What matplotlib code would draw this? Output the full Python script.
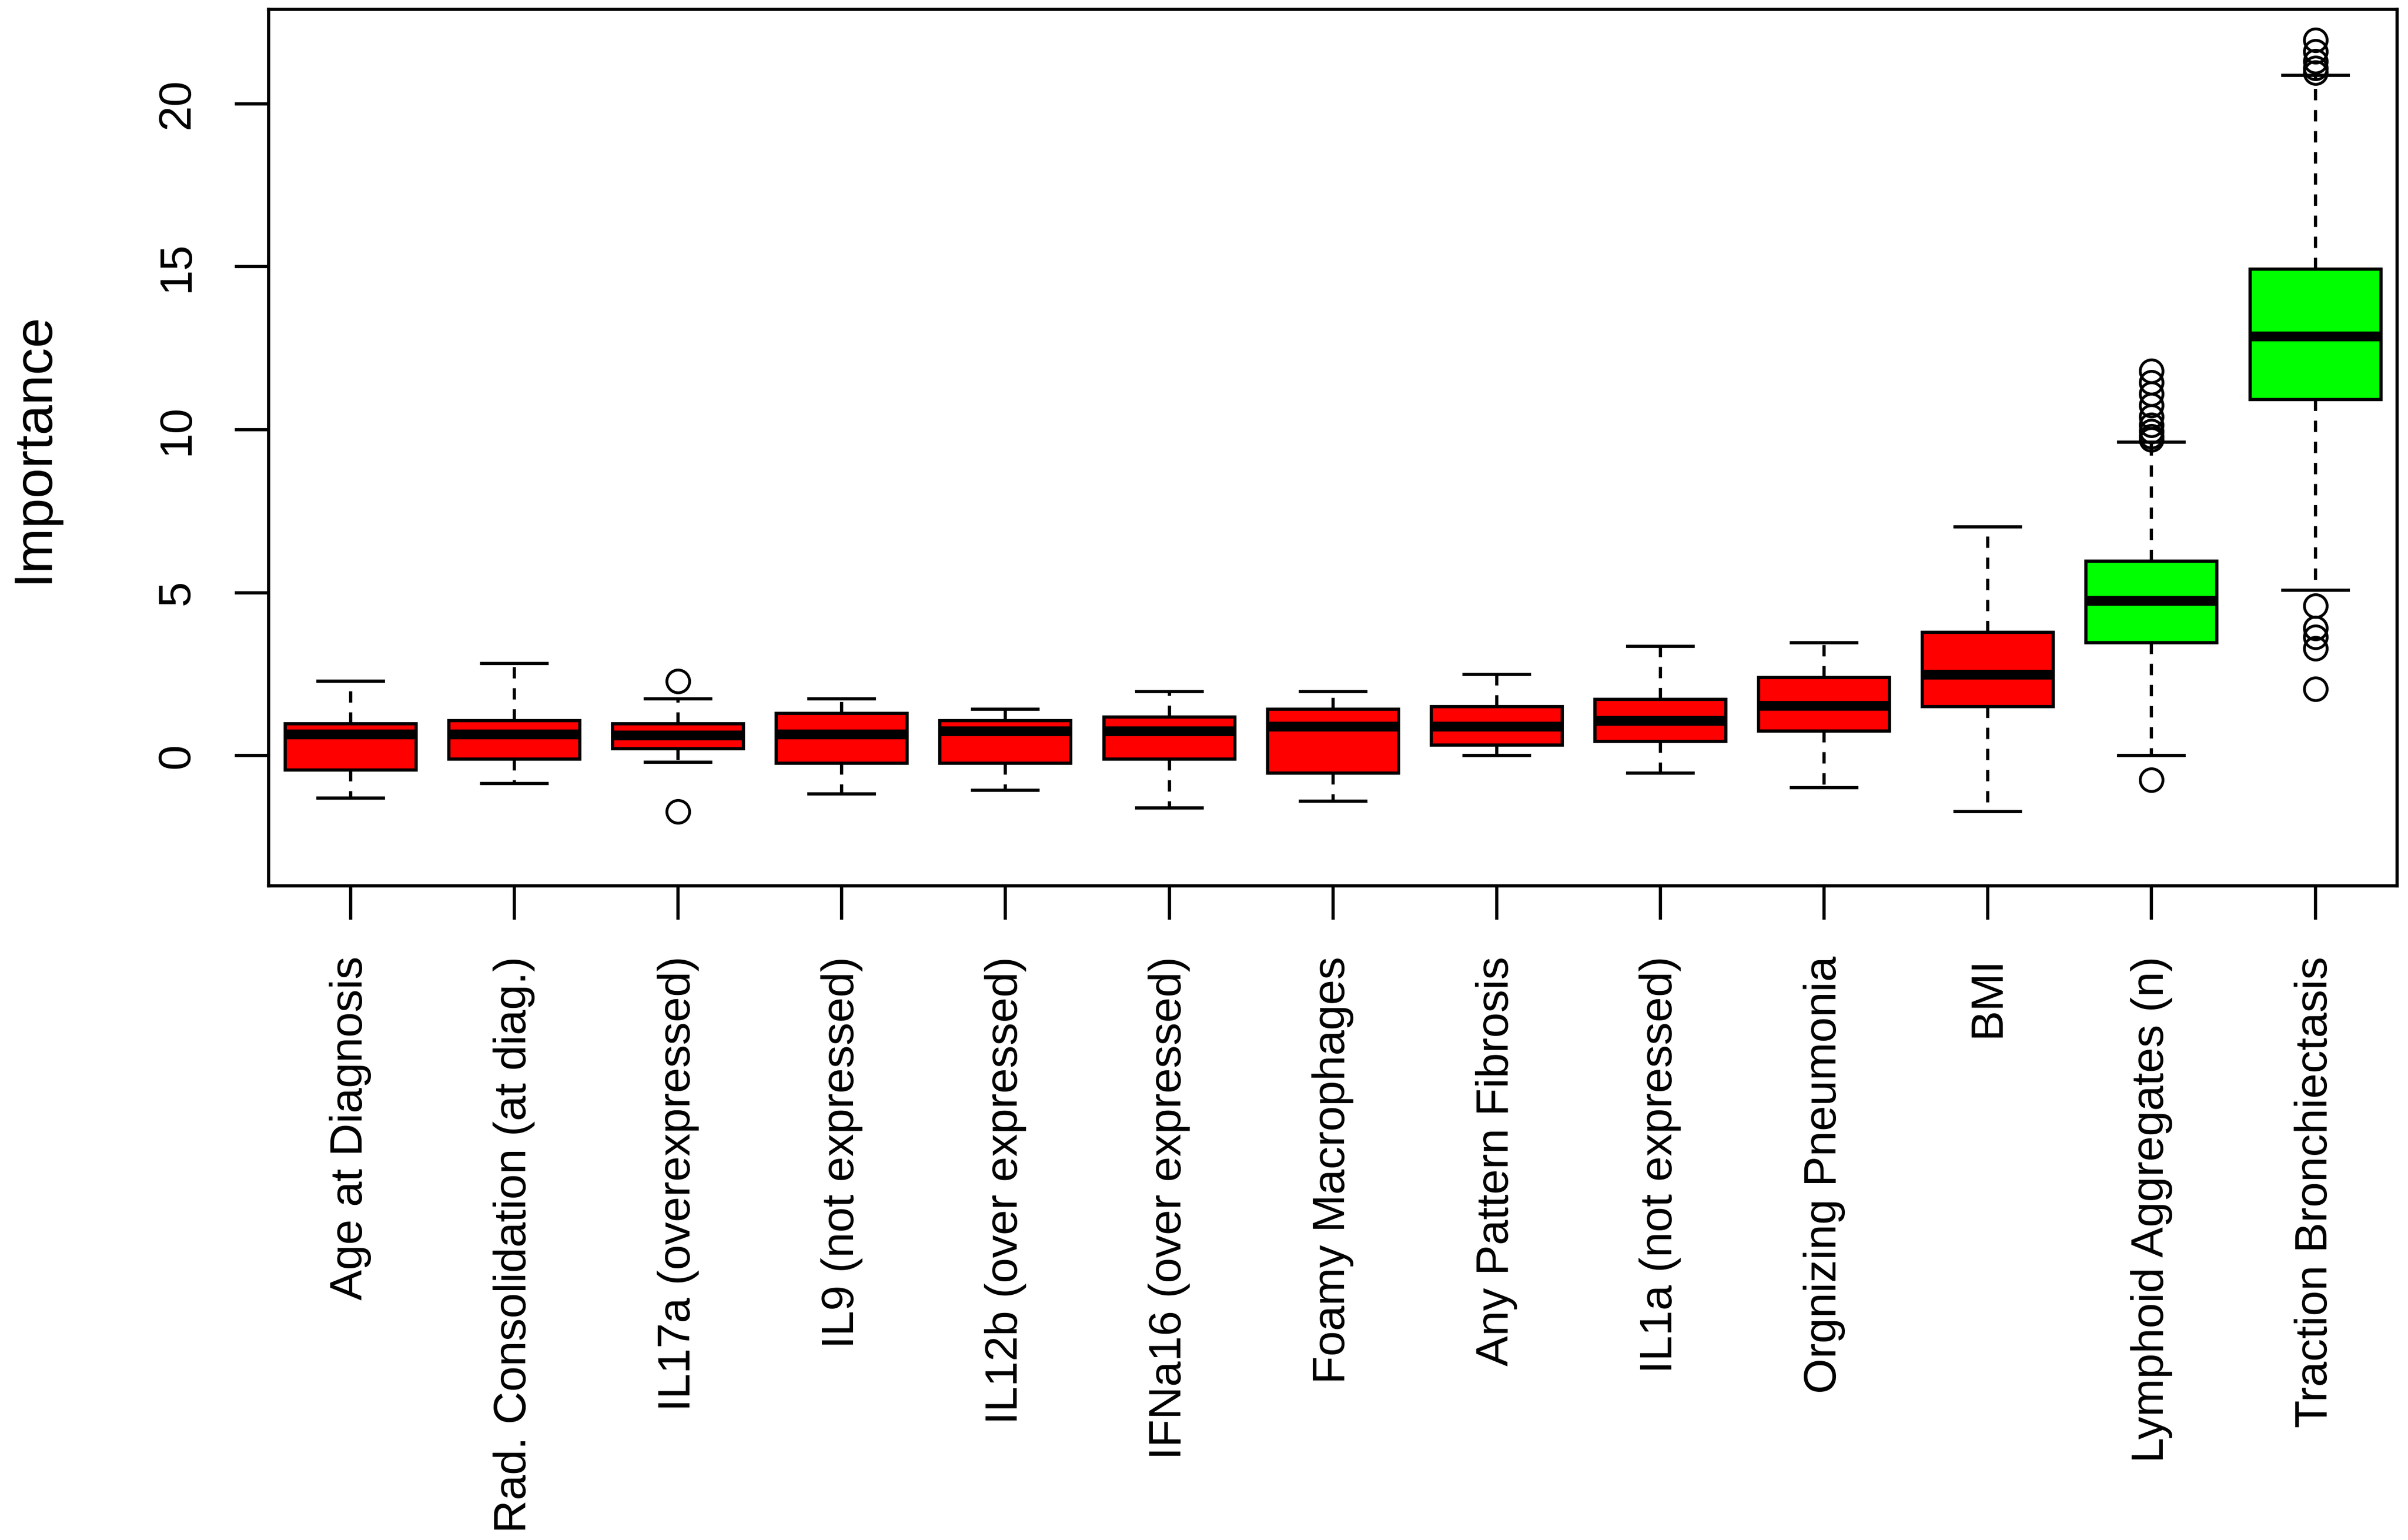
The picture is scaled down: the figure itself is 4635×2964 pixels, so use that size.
"""Variable importance boxplots, redrawn from the R figure."""

import matplotlib
matplotlib.use("Agg")
import matplotlib.pyplot as plt

plt.rcParams['font.family'] = ['Liberation Sans', 'DejaVu Sans']

labels = [
    "Age at Diagnosis", "Rad. Consolidation (at diag.)", "IL17a (overexpressed)",
    "IL9 (not expressed)", "IL12b (over expressed)", "IFNa16 (over expressed)",
    "Foamy Macrophages", "Any Pattern Fibrosis", "IL1a (not expressed)",
    "Orgnizing Pneumonia", "BMI", "Lymphoid Aggregates (n)", "Traction Bronchiectasis",
]

# five number summaries
whislo = [-1.30, -0.85, -0.21, -1.17, -1.07, -1.60, -1.40, 0.00, -0.53, -0.98, -1.72, 0.00, 5.08]
q1 = [-0.44, -0.11, 0.21, -0.23, -0.23, -0.11, -0.53, 0.32, 0.44, 0.75, 1.51, 3.47, 10.93]
med = [0.66, 0.66, 0.62, 0.66, 0.76, 0.76, 0.89, 0.89, 1.08, 1.53, 2.49, 4.76, 12.87]
q3 = [0.98, 1.07, 0.98, 1.30, 1.07, 1.19, 1.42, 1.51, 1.72, 2.40, 3.79, 5.96, 14.92]
whishi = [2.28, 2.83, 1.74, 1.74, 1.42, 1.96, 1.96, 2.49, 3.36, 3.47, 7.02, 9.62, 20.87]
fliers = [
    [], [], [2.28, -1.72], [], [], [], [], [], [], [], [],
    [9.70, 9.80, 9.95, 10.15, 10.40, 10.75, 11.10, 11.45, 11.80, -0.75],
    [20.95, 21.10, 21.30, 21.60, 21.95, 4.59, 3.91, 3.64, 3.29, 2.04],
]
colors = ["#ff0000"] * 11 + ["#00ff00"] * 2

stats = []
for i in range(len(labels)):
    stats.append(dict(label=labels[i], whislo=whislo[i], q1=q1[i], med=med[i],
                      q3=q3[i], whishi=whishi[i], fliers=fliers[i]))

fig = plt.figure(figsize=(15.45, 9.88), dpi=300)
ax = fig.add_axes([0.1116, 0.4247, 0.8839, 0.5693])

lw = 1.5
bp = ax.bxp(stats, positions=range(1, 14), widths=0.8, patch_artist=True,
            boxprops=dict(edgecolor="black", linewidth=lw),
            medianprops=dict(color="black", linewidth=4.5, solid_capstyle="butt"),
            whiskerprops=dict(color="black", linewidth=lw, linestyle=(0, (3.5, 3))),
            capprops=dict(color="black", linewidth=lw),
            capwidths=0.4,
            flierprops=dict(marker="o", markersize=10.5, markerfacecolor="none",
                            markeredgecolor="black", markeredgewidth=1.3))
for patch, c in zip(bp["boxes"], colors):
    patch.set_facecolor(c)

ax.set_xlim(0.5, 13.5)
ax.set_ylim(-4.0, 22.9)
ax.set_yticks([0, 5, 10, 15, 20])
ax.set_xticks(range(1, 14))
ax.set_xticklabels(labels, rotation=90, fontsize=21)
for t in ax.get_yticklabels():
    t.set_rotation(90)
    t.set_va("center")
    t.set_fontsize(21)
ax.tick_params(axis="both", length=15.5, width=lw, pad=17)
ax.set_ylabel("Importance", fontsize=25, labelpad=45)
for s in ax.spines.values():
    s.set_linewidth(lw)

fig.savefig("out.png", dpi=300)
